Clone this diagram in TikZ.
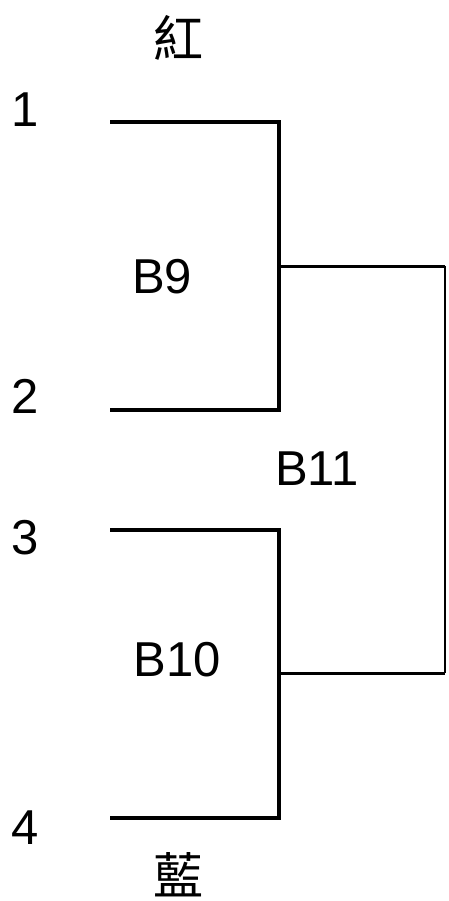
\documentclass[tikz,border=0pt]{standalone}
\usepackage{fontspec}
\setmainfont{Liberation Sans}
\newfontfamily\cjk{Noto Sans CJK TC}
\usetikzlibrary{calc}

\begin{document}
\begin{tikzpicture}[x=1pt,y=-1pt]
\tikzstyle{every node}+=[inner sep=0pt]
\tikzstyle{lbl}=[font=\fontsize{49}{49}\selectfont]
\tikzstyle{hanzi}=[font=\cjk\fontsize{50}{50}\selectfont]
\tikzstyle{heavy}=[black,line width=4]
\useasboundingbox (0,0) rectangle (448,901);
% seeds
\node [lbl] (n1) at (25,110) {1};
\node [lbl] (n2) at (25,396) {2};
\node [lbl] (n3) at (25,538) {3};
\node [lbl] (n4) at (25,828) {4};
\node [hanzi] (red) at (178,38) {紅};
\node [hanzi] (blue) at (178,875) {藍};
% bracket ends
\coordinate (a1) at (110,122);
\coordinate (a2) at (110,410);
\coordinate (a3) at (110,530);
\coordinate (a4) at (110,818);
\coordinate (b1) at (279,122);
\coordinate (b2) at (279,410);
\coordinate (b3) at (279,530);
\coordinate (b4) at (279,818);
\coordinate (m9) at (279,266);
\coordinate (m10) at (279,673);
\coordinate (r9) at (445,266);
\coordinate (r10) at (445,673);
\draw [heavy] (a1) -- (b1) -- (b2) -- (a2);
\draw [heavy] (a3) -- (b3) -- (b4) -- (a4);
\draw [black,line width=3] (m9) -- (r9);
\draw [black,line width=3] (m10) -- (r10);
\draw [black,line width=2] (r9) -- (r10);
% game labels
\node [lbl] (g9) at (162,277) {B9};
\node [lbl] (g10) at (177,660) {B10};
\node [lbl] (g11) at (317,469) {B11};
\end{tikzpicture}
\end{document}
